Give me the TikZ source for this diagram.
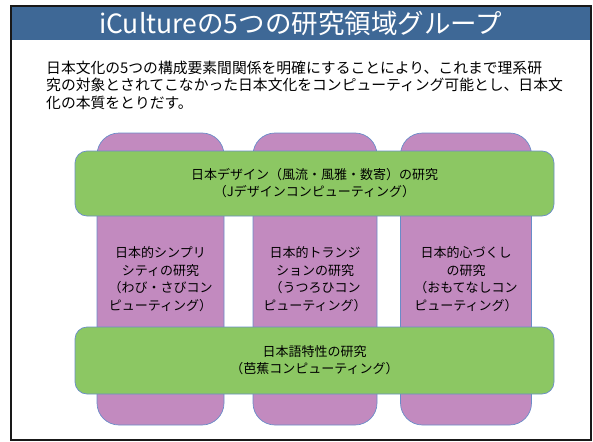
\documentclass[tikz,border=0pt]{standalone}
\usepackage{fontspec}
\setmainfont{Noto Sans CJK JP}
\definecolor{hdrblue}{RGB}{62,104,150}
\definecolor{colpurple}{RGB}{194,138,191}
\definecolor{bargreen}{RGB}{140,199,99}
\definecolor{edgeblue}{RGB}{105,140,200}
\begin{document}
\begin{tikzpicture}[x=1pt,y=-1pt,
  colbox/.style={draw=edgeblue,line width=0.7pt,fill=colpurple,rounded corners=22pt,
    inner sep=0pt,align=center,font=\fontsize{13}{17.5}\selectfont},
  barbox/.style={draw=edgeblue,line width=0.7pt,fill=bargreen,rounded corners=12pt,
    inner sep=0pt,align=center,minimum width=479pt,font=\fontsize{13}{17}\selectfont}]
\useasboundingbox (0,0) rectangle (593,441);
% header
\fill[hdrblue] (11,6) rectangle (591,40);
\node[text=white,font=\fontsize{26.5}{30}\selectfont] (title) at (300.5,23.5) {iCultureの5つの研究領域グループ};
% frame
\draw[line width=2pt,black!90] (11,6) rectangle (591,440);
% body text
\node[anchor=north west,align=left,inner sep=0pt,font=\fontsize{14.8}{17.5}\selectfont] (body) at (46,60.5)
  {日本文化の5つの構成要素間関係を明確にすることにより、これまで理系研\\
   究の対象とされてこなかった日本文化をコンピューティング可能とし、日本文\\
   化の本質をとりだす。};
% columns
\node[colbox,minimum width=127pt,minimum height=292pt] (c1) at (160.5,279)
  {日本的シンプリ\\シティの研究\\（わび・さびコン\\ピューティング）};
\node[colbox,minimum width=124pt,minimum height=292pt] (c2) at (315,279)
  {日本的トランジ\\ションの研究\\（うつろひコン\\ピューティング）};
\node[colbox,minimum width=131pt,minimum height=292pt] (c3) at (466,279)
  {日本的心づくし\\の研究\\（おもてなしコン\\ピューティング）};
% green bars
\node[barbox,minimum height=65pt] (gtop) at (314.5,183.5)
  {日本デザイン（風流・風雅・数寄）の研究\\（Jデザインコンピューティング）};
\node[barbox,minimum height=67pt] (gbot) at (314.5,360.5)
  {日本語特性の研究\\（芭蕉コンピューティング）};
\end{tikzpicture}
\end{document}
